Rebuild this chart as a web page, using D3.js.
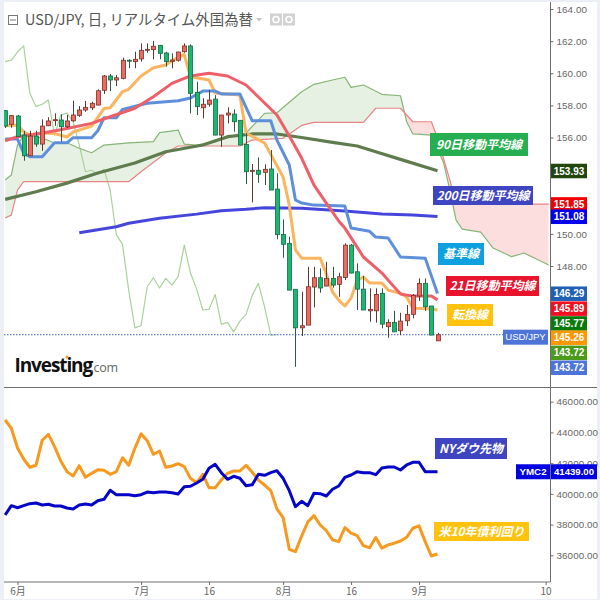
<!DOCTYPE html>
<html><head><meta charset="utf-8">
<script src="https://cdn.jsdelivr.net/npm/d3@7"></script>
<style>html,body{margin:0;padding:0;background:#fff}svg{display:block}
text{font-family:"Liberation Sans",Arial,sans-serif}</style></head><body>
<svg id="c" width="600" height="600"></svg>
<script>
const firstIdx=-2;
const opens=[157.67,156.82,157.34,156.15,154.86,156.09,155.59,156.73,157.07,157.09,156.67,157.04,157.38,157.71,157.85,158.02,158.94,159.83,159.58,159.68,160.81,160.72,160.89,161.45,161.47,161.74,161.26,160.74,160.81,161.34,161.70,158.81,157.85,158.07,158.39,156.15,157.40,157.46,157.07,155.57,153.89,153.96,153.83,154.04,152.79,149.97,149.41,146.55,144.15,144.32,146.69,147.27,146.75,147.23,146.86,147.29,149.30,147.64,146.56,145.21,145.21,146.30,144.22,144.49,143.97,144.59,144.99,146.13,146.92,145.51,143.34];
const highs=[157.71,157.40,157.40,156.42,156.42,156.42,157.13,157.26,157.50,157.44,157.40,158.29,157.96,158.27,158.23,159.00,159.89,159.95,159.89,160.97,160.87,161.34,161.86,161.86,162.01,161.76,161.34,161.24,161.34,161.86,161.80,159.47,158.44,158.96,158.64,157.40,157.88,157.75,157.07,156.28,154.35,154.76,154.33,155.22,153.77,150.90,149.82,146.55,146.40,147.95,147.95,147.85,148.26,147.95,147.58,149.41,149.37,148.16,147.39,146.61,146.61,146.61,144.68,145.21,145.09,145.57,146.25,147.23,147.23,145.51,143.84];
const lows=[156.59,156.61,156.03,154.55,154.86,155.42,155.17,156.71,156.73,155.74,156.59,156.98,157.29,157.60,157.71,158.00,158.71,158.89,159.20,159.62,160.31,160.31,160.72,161.28,160.87,160.87,160.41,160.31,160.72,161.28,157.50,157.40,157.19,157.92,156.15,155.42,156.88,156.36,155.53,153.10,151.96,153.18,153.04,152.73,149.66,148.51,146.50,141.72,143.64,144.32,145.42,146.33,146.75,146.65,146.08,147.12,147.54,145.26,145.26,144.53,144.47,144.12,143.53,143.90,143.70,144.26,144.74,145.82,145.21,143.70,143.34];
const closes=[156.71,157.36,156.05,154.86,156.09,155.59,156.71,157.03,157.11,156.67,157.03,157.40,157.71,157.88,158.13,158.91,159.83,159.58,159.72,160.81,160.76,160.87,161.43,161.49,161.68,161.24,160.72,160.82,161.32,161.70,158.75,157.92,158.07,158.33,156.15,157.40,157.52,156.98,155.53,153.87,153.96,153.71,154.02,152.73,149.95,149.35,146.50,144.15,144.28,146.71,147.27,146.63,147.23,146.81,147.33,149.30,147.56,146.56,145.26,145.30,146.23,144.38,144.49,143.90,144.57,144.99,146.17,146.92,145.46,143.70,143.72];

const tenkanIdx=[-2,-1,0,1,2,4,6,8,9,12,14,15,17,18,20,22,24,25,27,28,31,32,36,37,40,43,44,45,46,49,50,51,52,53,54,55,56,57,59,60,62,63,64,67,68];
const tenkanVal=[156.73,156.75,156.78,156.34,156.15,156.28,156.25,156.03,156.34,156.71,157.80,157.85,158.85,159.0,159.83,160.34,160.51,160.79,161.18,159.78,159.58,158.77,158.64,156.28,155.66,153.54,151.79,149.0,148.49,148.49,147.50,146.38,145.88,145.51,146.0,147.12,147.31,146.94,146.94,146.5,146.3,146.07,145.38,145.32,145.26];
const kijunIdx=[-2,0,1,2,4,6,8,9,12,13,14,16,17,21,26,28,30,32,33,36,38,41,42,44,45,46,48,53,54,57,58,60,62,66,68];
const kijunVal=[155.90,155.90,155.03,154.80,154.80,155.67,155.67,155.99,155.99,156.42,157.23,157.23,157.75,158.13,158.29,158.46,158.89,158.89,158.71,158.71,157.04,157.04,155.84,154.29,152.11,151.92,151.79,151.73,150.36,150.16,149.80,149.74,148.56,148.49,146.29];
const sma21Idx=[-2,0,4,7,12,15,19,22,25,28,31,34,37,39,42,44,46,48,50,52,53,56,59,60,62,64,67,68];
const sma21Val=[155.80,156.05,156.28,156.48,156.88,157.29,157.82,158.54,159.37,159.83,160.0,159.83,159.27,158.52,157.40,156.09,154.72,153.04,151.92,150.80,150.36,148.56,147.56,147.12,146.25,146.13,146.13,145.89];
const sma90Idx=[-2,3,8,13,19,24,30,34,38,42,46,51,55,58,62,68];
const sma90Val=[152.15,152.62,153.16,153.79,154.41,155.11,155.53,156.05,156.22,156.22,156.0,155.70,155.47,155.11,154.64,153.93];
const sma200Idx=[10,16,18,23,29,33,37,40,46,53,59,64,68];
const sma200Val=[150.07,150.44,150.66,150.97,151.23,151.44,151.53,151.63,151.59,151.42,151.23,151.17,151.08];
const spanAIdx=[-2,-1,0,1,4,6,8,10,12,14,18,22,23,26,27,29,32,34,37,40,42,46,48,51,53,54,56,59,62,63,64,67,69,70,71,72,75,77,80,82,86];
const spanAVal=[153.35,153.66,155.53,156.15,155.97,155.66,155.67,155.33,155.05,155.53,155.67,155.74,156.30,156.46,155.59,155.53,155.74,155.97,156.28,157.50,157.54,158.85,159.31,159.58,159.75,159.12,159.27,158.69,158.60,156.98,156.22,156.15,154.41,152.73,150.86,150.30,150.11,149.12,148.58,148.81,148.06];
const spanBIdx=[-2,-1,0,1,18,20,24,26,36,38,43,46,48,56,58,62,64,67,68,70,71,86];
const spanBVal=[150.99,151.17,152.73,153.25,153.25,153.87,155.03,155.47,155.47,155.84,155.95,156.75,156.94,156.94,157.82,157.82,156.98,156.98,155.97,153.35,151.85,151.85];

const dowFutures=[38624,39230,39099,39230,39360,39405,39275,39321,39210,39210,39080,39015,39275,39340,39275,39555,39646,40232,39946,39946,39946,39881,39946,40121,40076,40121,40121,40076,39991,40466,40493,40707,40948,41664,41925,41378,40948,41144,41013,40532,40597,41274,41209,41378,41508,41013,40206,39164,39516,39230,40037,40011,39861,40297,40512,41078,41228,41443,41378,41378,41248,41684,41749,41749,41554,41879,42055,42055,41443,41443,41439];
const yield10y=[4.62,4.567,4.44,4.37,4.317,4.33,4.49,4.528,4.449,4.357,4.289,4.261,4.327,4.253,4.278,4.301,4.298,4.272,4.289,4.378,4.33,4.439,4.532,4.487,4.40,4.421,4.317,4.325,4.34,4.321,4.246,4.218,4.272,4.186,4.186,4.235,4.278,4.293,4.293,4.33,4.285,4.235,4.203,4.167,4.05,3.994,3.791,3.776,3.876,3.966,4.007,3.947,3.91,3.851,3.84,3.93,3.894,3.878,3.814,3.801,3.866,3.798,3.819,3.83,3.844,3.868,3.926,3.941,3.84,3.748,3.761];

const priceTicks=[164,162,160,158,156,150,148];
const priceTickMarks=[154,152];
const dowTicks=[46000,44000,42000,40000,38000,36000];
const timeTickIdx=[0,20,31,43,54,65,85.5];
const timeTickLabels=["6月","7月","16","8月","16","9月","10"];
const priceTags=[
 ["153.93","#21470f",153.93],["151.85","#f00000",151.85],["151.08","#0000ee",151.08],
 ["146.29","#1f5fb4",146.29],["145.89","#f01020",145.36],["145.77","#0a7a0a",144.44],
 ["145.26","#ff9800",143.55],["143.72","#4c9a1a",142.61],["143.72","#4d74d9",141.68]];
const notes=[
 ["90日移動平均線","#27ae50",430,133,98,23],
 ["200日移動平均線","#3f45c0",433,186,100,19],
 ["基準線","#0fa0e0",438,243,46,22],
 ["21日移動平均線","#e8142e",446,276,93,20],
 ["転換線","#ffc30f",447,304,46,22],
 ["NYダウ先物","#3f45c0",435,438,72,21],
 ["米10年債利回り","#ffc30f",434,522,95,19]];

const svg=d3.select("#c");
const x=d3.scaleLinear().domain([0,65]).range([17.5,419]);
const y=d3.scaleLinear().domain([164,148]).range([9,266]);
const yD=d3.scaleLinear().domain([46000,36000]).range([401.7,555.3]);
const yY=d3.scaleLinear().domain([4.62,3.78]).range([420,551]);

// page frame
svg.append("rect").attr("width",600).attr("height",600).attr("fill","#edeff6");
svg.append("rect").attr("x",4).attr("y",2).attr("width",593).attr("height",597).attr("fill","#fff");
const defs=svg.append("defs");
defs.append("clipPath").attr("id","up").append("rect").attr("x",4).attr("y",3).attr("width",546).attr("height",384);
defs.append("clipPath").attr("id","lo").append("rect").attr("x",4).attr("y",388).attr("width",546).attr("height",194);

const pts=(I,V)=>I.map((d,k)=>[d,V[k]]);
const line=d3.line().x(d=>x(d[0])).y(d=>y(d[1]));
const A=pts(spanAIdx,spanAVal),B=pts(spanBIdx,spanBVal);
const areaDown=d3.area().x(d=>x(d[0])).y0(400).y1(d=>y(d[1]));
const areaUp=d3.area().x(d=>x(d[0])).y0(0).y1(d=>y(d[1]));
defs.append("clipPath").attr("id","belowA").append("path").attr("d",areaDown(A));
defs.append("clipPath").attr("id","belowB").append("path").attr("d",areaDown(B));
const up=svg.append("g").attr("clip-path","url(#up)");
up.append("g").attr("clip-path","url(#belowB)").append("path").attr("d",areaUp(A)).attr("fill","#fbdedd");
up.append("g").attr("clip-path","url(#belowA)").append("path").attr("d",areaUp(B)).attr("fill","#e6f0e3");

const chikou=closes.map((c,k)=>[k+firstIdx-26,c]).filter(d=>d[0]>=firstIdx);
const stroke=(data,color,w)=>up.append("path").attr("d",line(data)).attr("fill","none").attr("stroke",color).attr("stroke-width",w).attr("stroke-linejoin","round");
stroke(chikou,"#a9d29b",1.2);
stroke(A,"#86b676",1.2);
stroke(B,"#e88484",1.2);
stroke(pts(sma200Idx,sma200Val),"#4646dc",3);
stroke(pts(sma90Idx,sma90Val),"#5f7c4f",3.2);
stroke(pts(tenkanIdx,tenkanVal),"#fbb45f",3);
stroke(pts(kijunIdx,kijunVal),"#5e8fdb",3);
stroke(pts(sma21Idx,sma21Val),"#ef5f69",3);

// last price line
up.append("line").attr("x1",4).attr("x2",503).attr("y1",y(closes[closes.length-1])).attr("y2",y(closes[closes.length-1]))
 .attr("stroke","#3a5fd0").attr("stroke-width",1).attr("stroke-dasharray","1.5,1.5");

// candles
const cand=up.append("g").selectAll("g").data(closes.map((c,k)=>({i:k+firstIdx,o:opens[k],h:highs[k],l:lows[k],c}))).join("g");
cand.append("line").attr("x1",d=>Math.round(x(d.i))+.5).attr("x2",d=>Math.round(x(d.i))+.5)
 .attr("y1",d=>y(d.h)).attr("y2",d=>y(d.l)).attr("stroke",d=>d.c>=d.o?"#5a3a32":"#2f5a48").attr("stroke-width",1);
cand.append("rect").attr("x",d=>Math.round(x(d.i))-1.5).attr("width",4)
 .attr("y",d=>y(Math.max(d.o,d.c))).attr("height",d=>Math.max(1,Math.abs(y(d.o)-y(d.c))))
 .attr("fill",d=>d.c>=d.o?"#ee6a60":"#16b96d").attr("stroke",d=>d.c>=d.o?"#7a3028":"#136b45").attr("stroke-width",.8);

// lower panel
const lo=svg.append("g").attr("clip-path","url(#lo)");
const lineY=d3.line().x((d,k)=>x(k+firstIdx)).y(d=>yY(d));
const lineD=d3.line().x((d,k)=>x(k+firstIdx)).y(d=>yD(d));
lo.append("path").attr("d",lineY(yield10y)).attr("fill","none").attr("stroke","#f7991e").attr("stroke-width",3).attr("stroke-linejoin","round");
lo.append("path").attr("d",lineD(dowFutures)).attr("fill","none").attr("stroke","#0505c8").attr("stroke-width",3).attr("stroke-linejoin","round");

// frames and axes
const G="#6e6e6e";
svg.append("line").attr("x1",4).attr("x2",597).attr("y1",387.5).attr("y2",387.5).attr("stroke",G);
svg.append("line").attr("x1",4).attr("x2",550).attr("y1",582).attr("y2",582).attr("stroke",G);
svg.append("line").attr("x1",550.5).attr("x2",550.5).attr("y1",2).attr("y2",582).attr("stroke",G);

function styleAxis(g){g.select(".domain").remove();g.selectAll("line").attr("stroke",G);
 g.selectAll("text").attr("fill","#666").style("font-family",'"Liberation Sans",Arial,sans-serif').style("font-size","9.8px").style("letter-spacing","0.1px");}
svg.append("g").attr("transform","translate(550.5,0)")
 .call(d3.axisRight(y).tickValues(priceTicks).tickFormat(d3.format(".2f")).tickSize(3).tickPadding(3)).call(styleAxis);
svg.append("g").attr("transform","translate(550.5,0)")
 .call(d3.axisRight(y).tickValues(priceTickMarks).tickFormat("").tickSize(3)).call(styleAxis);
svg.append("g").attr("transform","translate(550.5,0)")
 .call(d3.axisRight(yD).tickValues(dowTicks).tickFormat(d3.format(".2f")).tickSize(3).tickPadding(3)).call(styleAxis);
svg.append("g").attr("transform","translate(0,582)")
 .call(d3.axisBottom(x).tickValues(timeTickIdx).tickFormat((d,k)=>timeTickLabels[k]).tickSize(3).tickPadding(3)).call(styleAxis)
 .selectAll("text").style("font-family",'"Noto Sans CJK JP","Liberation Sans",sans-serif').style("font-size","10px");

// value tags
const tagG=svg.append("g");
priceTags.forEach(([t,c,v])=>{
 tagG.append("rect").attr("x",551).attr("y",y(v)-7).attr("width",36).attr("height",14.5).attr("fill",c);
 tagG.append("text").attr("x",569).attr("y",y(v)+3.8).attr("text-anchor","middle").attr("fill","#fff")
  .attr("font-size",10).attr("font-weight","bold").text(t);
});
const last=143.6;
tagG.append("rect").attr("x",503).attr("y",y(last)-7).attr("width",45).attr("height",15).attr("fill","#4d74d9");
tagG.append("text").attr("x",525.5).attr("y",y(last)+3.6).attr("text-anchor","middle").attr("fill","#fff").attr("font-size",9.6).text("USD/JPY");
const dowLast=dowFutures[dowFutures.length-1];
tagG.append("rect").attr("x",516).attr("y",yD(dowLast)-7.5).attr("width",34).attr("height",15).attr("fill","#0000e0");
tagG.append("rect").attr("x",551).attr("y",yD(dowLast)-7.5).attr("width",46).attr("height",15).attr("fill","#0000e0");
tagG.append("text").attr("x",533).attr("y",yD(dowLast)+3.5).attr("text-anchor","middle").attr("fill","#fff").attr("font-size",9.8).attr("font-weight","bold").text("YMC2");
tagG.append("text").attr("x",574).attr("y",yD(dowLast)+3.5).attr("text-anchor","middle").attr("fill","#fff").attr("font-size",9.6).attr("font-weight","bold").text(d3.format(".2f")(dowLast));

// annotation notes
const nG=svg.append("g");
notes.forEach(([t,c,nx,ny,w,h])=>{
 nG.append("rect").attr("x",nx).attr("y",ny).attr("width",w).attr("height",h).attr("fill",c);
 nG.append("text").attr("x",nx+w/2).attr("y",ny+h/2+4.4).attr("text-anchor","middle").attr("fill","#fff")
  .attr("font-style","italic").attr("font-weight","bold").attr("font-size",12)
  .style("font-family",'"Noto Sans CJK JP",sans-serif').text(t);
});

// title
const T=svg.append("g");
T.append("rect").attr("x",8.5).attr("y",15.5).attr("width",9).attr("height",9).attr("fill","none").attr("stroke","#777");
T.append("line").attr("x1",10).attr("x2",16).attr("y1",20).attr("y2",20).attr("stroke","#777");
T.append("text").attr("x",25).attr("y",25).attr("fill","#555").attr("font-size",14.4)
 .style("font-family",'"Noto Sans CJK JP",sans-serif').text("USD/JPY, 日, リアルタイム外国為替");
T.append("path").attr("d",d3.line()([[256,18],[262,18],[259,21.5]])).attr("fill","#c4c4c4");
[270,283].forEach(px=>{T.append("rect").attr("x",px).attr("y",13.5).attr("width",12).attr("height",12).attr("fill","#d2d2d2");
 T.append("circle").attr("cx",px+6).attr("cy",19.5).attr("r",3).attr("fill","none").attr("stroke","#fff").attr("stroke-width",1.6);});

// logo
const L=svg.append("g");
L.append("text").attr("x",14.5).attr("y",372).attr("fill","#111").attr("font-size",19).attr("font-weight","bold").attr("letter-spacing","-1.1")
 .style("font-family",'"Open Sans",sans-serif').text("Investing");
L.append("text").attr("x",90.5).attr("y",372).attr("fill","#666").attr("font-size",12.5).attr("letter-spacing","-0.3")
 .style("font-family",'"Open Sans",sans-serif').text(".com");
L.append("circle").attr("cx",67).attr("cy",357).attr("r",1.5).attr("fill","#f59c1a");
</script></body></html>
